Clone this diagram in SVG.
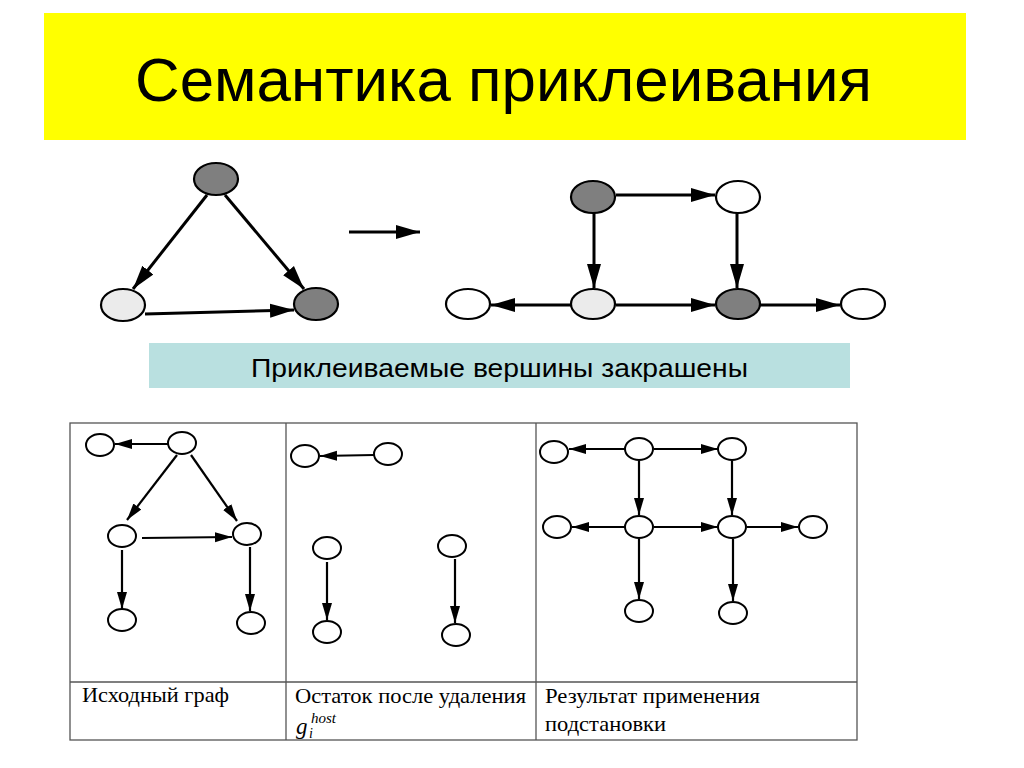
<svg xmlns="http://www.w3.org/2000/svg" width="1024" height="768" viewBox="0 0 1024 768">
<style>
.title{font-family:"Liberation Sans",Arial,sans-serif;font-size:61px;fill:#000}
.cap{font-family:"Liberation Sans",Arial,sans-serif;font-size:25px;fill:#000}
.tt{font-family:"Liberation Serif","Times New Roman",serif;font-size:21px;fill:#000}
.it{font-family:"Liberation Serif","Times New Roman",serif;font-style:italic;fill:#000}
.bn{stroke:#000;stroke-width:2.2}
.sn{fill:#fff;stroke:#000;stroke-width:2}
.dark{fill:#7f7f7f}
.light{fill:#ebebeb}
.white{fill:#fff}
.be{stroke:#000;stroke-width:3;fill:none;marker-end:url(#bigArrow)}
.se{stroke:#000;stroke-width:2.2;fill:none;marker-end:url(#smallArrow)}
.grid{fill:none;stroke:#555;stroke-width:1.3}
</style>
<defs>
<marker id="bigArrow" markerUnits="userSpaceOnUse" markerWidth="26" markerHeight="16" refX="24" refY="8" orient="auto">
<path d="M0,1 L24,8 L0,15 z" fill="#000"/>
</marker>
<marker id="smallArrow" markerUnits="userSpaceOnUse" markerWidth="19" markerHeight="12" refX="17" refY="6" orient="auto">
<path d="M0,1 L17,6 L0,11 z" fill="#000"/>
</marker>
</defs>
<rect width="1024" height="768" fill="#fff"/>

<g id="title">
<rect x="44" y="13" width="922" height="127" fill="#ffff00"/>
<text class="title" x="135" y="101" textLength="737" lengthAdjust="spacingAndGlyphs">Семантика приклеивания</text>
</g>

<g id="connectors">
<path class="be" d="M207,195 L133,289"/>
<path class="be" d="M225,195 L304,289"/>
<path class="be" d="M145,314 L294,310"/>
<path d="M349,232 L420,232" stroke="#000" stroke-width="3" marker-end="url(#bigArrow)"/>
<path class="be" d="M616,195 L715,195"/>
<path class="be" d="M594,213 L594,288"/>
<path class="be" d="M737,213 L737,288"/>
<path class="be" d="M571,305 L491,305"/>
<path class="be" d="M616,305 L715,305"/>
<path class="be" d="M760,305 L840,305"/>
<path class="se" d="M168,444 L115,444"/>
<path class="se" d="M177,455 L127,520"/>
<path class="se" d="M191,455 L237,521"/>
<path class="se" d="M142,538 L232,537"/>
<path class="se" d="M122,550 L122,609"/>
<path class="se" d="M250,547 L250,611"/>
<path class="se" d="M374,455 L320,456"/>
<path class="se" d="M327,562 L327,620"/>
<path class="se" d="M455,559 L455,623"/>
<path class="se" d="M625,449 L569,449"/>
<path class="se" d="M654,449 L718,449"/>
<path class="se" d="M639,461 L639,515"/>
<path class="se" d="M732,461 L732,515"/>
<path class="se" d="M625,527 L572,527"/>
<path class="se" d="M654,527 L718,527"/>
<path class="se" d="M747,527 L798,527"/>
<path class="se" d="M639,539 L639,599"/>
<path class="se" d="M733,539 L733,601"/>
</g>

<g id="top-left-graph">
<g id="tl-top"><ellipse class="bn dark" cx="216" cy="179" rx="22" ry="16"/></g>
<g id="tl-left"><ellipse class="bn light" cx="123" cy="305" rx="22" ry="16"/></g>
<g id="tl-right"><ellipse class="bn dark" cx="316" cy="304" rx="22" ry="16"/></g>
</g>

<g id="top-right-graph">
<g id="tr-a"><ellipse class="bn dark" cx="593" cy="197" rx="22" ry="16"/></g>
<g id="tr-b"><ellipse class="bn white" cx="738" cy="197" rx="22" ry="16"/></g>
<g id="tr-c"><ellipse class="bn white" cx="468" cy="304" rx="22" ry="15"/></g>
<g id="tr-d"><ellipse class="bn light" cx="593" cy="304" rx="22" ry="15"/></g>
<g id="tr-e"><ellipse class="bn dark" cx="738" cy="304" rx="22" ry="15"/></g>
<g id="tr-f"><ellipse class="bn white" cx="863" cy="304" rx="22" ry="15"/></g>
</g>

<g id="caption">
<rect x="149" y="343" width="701" height="45" fill="#b9e0e0"/>
<text class="cap" x="251" y="377" textLength="497" lengthAdjust="spacingAndGlyphs">Приклеиваемые вершины закрашены</text>
</g>

<g id="table">
<rect class="grid" x="70" y="423" width="787" height="317"/>
<line class="grid" x1="286" y1="423" x2="286" y2="740"/>
<line class="grid" x1="536" y1="423" x2="536" y2="740"/>
<line class="grid" x1="70" y1="682" x2="857" y2="682"/>
</g>

<g id="col1-graph">
<g id="c1-a"><ellipse class="sn" cx="100" cy="445" rx="14" ry="11"/></g>
<g id="c1-b"><ellipse class="sn" cx="182" cy="443" rx="14" ry="11"/></g>
<g id="c1-c"><ellipse class="sn" cx="122" cy="536" rx="14" ry="11"/></g>
<g id="c1-d"><ellipse class="sn" cx="247" cy="534" rx="14" ry="11"/></g>
<g id="c1-e"><ellipse class="sn" cx="122" cy="620" rx="14" ry="11"/></g>
<g id="c1-f"><ellipse class="sn" cx="251" cy="623" rx="14" ry="11"/></g>
</g>

<g id="col2-graph">
<g id="c2-a"><ellipse class="sn" cx="305" cy="456" rx="14" ry="11"/></g>
<g id="c2-b"><ellipse class="sn" cx="388" cy="454" rx="14" ry="11"/></g>
<g id="c2-c"><ellipse class="sn" cx="327" cy="548" rx="14" ry="11"/></g>
<g id="c2-d"><ellipse class="sn" cx="327" cy="632" rx="14" ry="11"/></g>
<g id="c2-e"><ellipse class="sn" cx="452" cy="546" rx="14" ry="11"/></g>
<g id="c2-f"><ellipse class="sn" cx="456" cy="635" rx="14" ry="11"/></g>
</g>

<g id="col3-graph">
<g id="c3-1"><ellipse class="sn" cx="554" cy="452" rx="14" ry="11"/></g>
<g id="c3-2"><ellipse class="sn" cx="639" cy="449" rx="14" ry="11"/></g>
<g id="c3-3"><ellipse class="sn" cx="732" cy="449" rx="14" ry="11"/></g>
<g id="c3-4"><ellipse class="sn" cx="557" cy="527" rx="14" ry="11"/></g>
<g id="c3-5"><ellipse class="sn" cx="639" cy="527" rx="14" ry="11"/></g>
<g id="c3-6"><ellipse class="sn" cx="732" cy="527" rx="14" ry="11"/></g>
<g id="c3-7"><ellipse class="sn" cx="813" cy="527" rx="14" ry="11"/></g>
<g id="c3-8"><ellipse class="sn" cx="639" cy="611" rx="14" ry="11"/></g>
<g id="c3-9"><ellipse class="sn" cx="733" cy="613" rx="14" ry="11"/></g>
</g>

<g id="table-labels">
<text class="tt" x="82" y="702" textLength="147" lengthAdjust="spacingAndGlyphs">Исходный граф</text>
<text class="tt" x="295" y="703" textLength="231" lengthAdjust="spacingAndGlyphs">Остаток после удаления</text>
<text class="it" x="296" y="734" font-size="23">g</text>
<text class="it" x="309" y="738" font-size="14">i</text>
<text class="it" x="311" y="723" font-size="15">host</text>
<text class="tt" x="545" y="703" textLength="215" lengthAdjust="spacingAndGlyphs">Результат применения</text>
<text class="tt" x="545" y="731" textLength="121" lengthAdjust="spacingAndGlyphs">подстановки</text>
</g>
</svg>
